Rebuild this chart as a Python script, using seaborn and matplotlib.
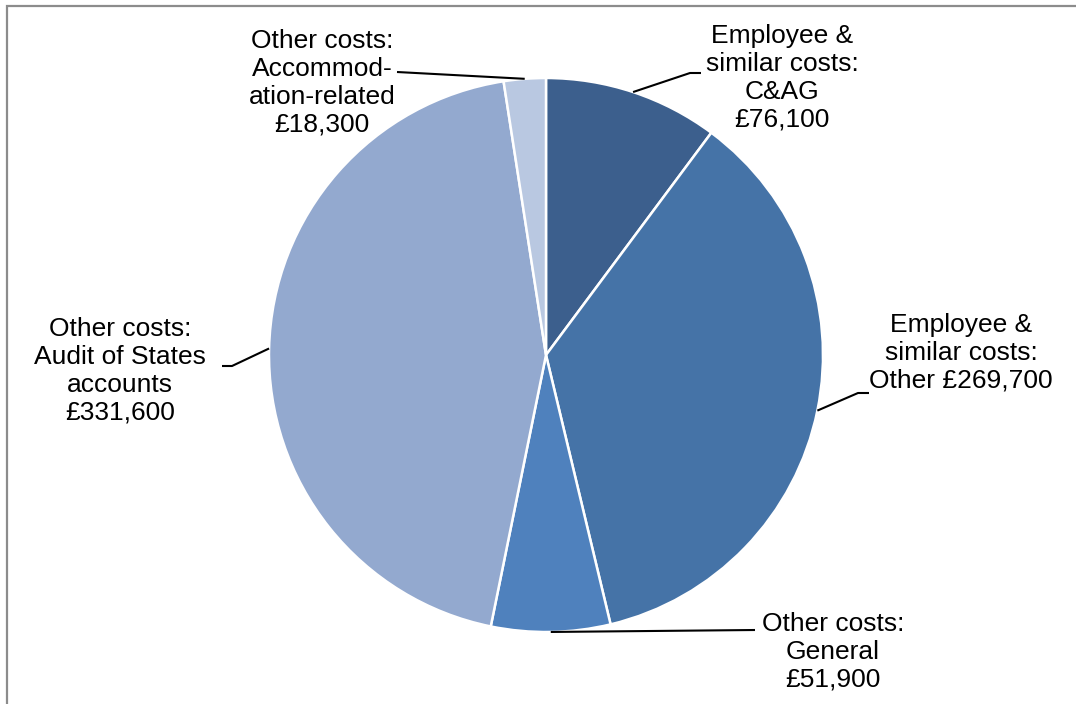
import numpy as np
import matplotlib
matplotlib.use("Agg")
import matplotlib.pyplot as plt
import seaborn as sns
from matplotlib.patches import Rectangle

sns.set_theme(style="white")
plt.rcParams['font.family'] = ['Liberation Sans', 'DejaVu Sans']

categories = [
    "Employee &\nsimilar costs:\nC&AG\n£76,100",
    "Employee &\nsimilar costs:\nOther £269,700",
    "Other costs:\nGeneral\n£51,900",
    "Other costs:\nAudit of States\naccounts\n£331,600",
    "Other costs:\nAccommod-\nation-related\n£18,300",
]
values = [76100, 269700, 51900, 331600, 18300]
colors = ["#3C5F8D", "#4573A7", "#4F81BD", "#93A9CF", "#B9C8E1"]

W, H = 1076, 704
fig = plt.figure(figsize=(W / 100, H / 100), dpi=100)
ax = fig.add_axes([0, 0, 1, 1])

cx, cy, r = 546, 355, 277
wedges, _ = ax.pie(values, colors=colors, startangle=-90, counterclock=True,
                   center=(cx, cy), radius=r,
                   wedgeprops=dict(edgecolor='white', linewidth=1.8))
ax.set_xlim(0, W)
ax.set_ylim(H, 0)
ax.set_aspect('equal')
ax.axis('off')

# label text positions (centre) and leader elbows
label_pos = [(782, 78), (961, 353), (833, 652), (120, 371), (322, 83)]
elbows = [[(690, 73), (701, 73)],
          [(858, 393), (869, 393)],
          [(755, 630)],
          [(232, 366), (222, 366)],
          [(397, 72)]]

for w, txt, (tx, ty), el in zip(wedges, categories, label_pos, elbows):
    mid = np.deg2rad((w.theta1 + w.theta2) / 2)
    px, py = cx + r * np.cos(mid), cy + r * np.sin(mid)
    xs = [px] + [e[0] for e in el]
    ys = [py] + [e[1] for e in el]
    ax.plot(xs, ys, color='black', lw=1.5, solid_capstyle='butt')
    ax.text(tx, ty, txt, ha='center', va='center', fontsize=19,
            linespacing=1.2, color='black')

# outer frame (left and top visible)
fig.patches.append(Rectangle((7 / W, -0.1), 1.2, (H - 6) / H + 0.1,
                             transform=fig.transFigure, fill=False,
                             edgecolor='#8c8c8c', linewidth=1.6))

fig.savefig("out.png", dpi=100)
